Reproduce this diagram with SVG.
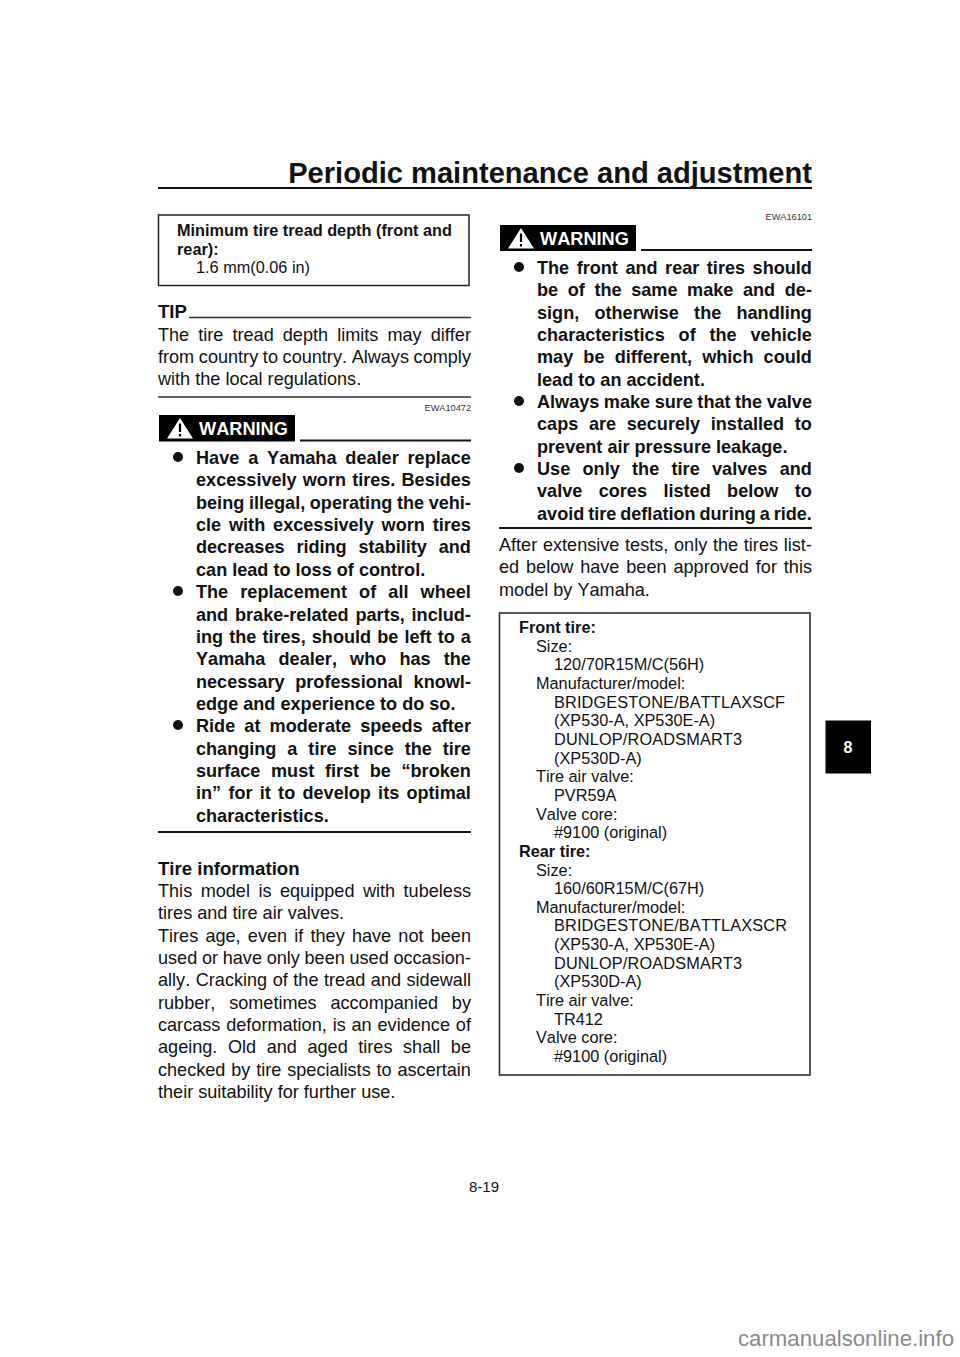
<svg xmlns="http://www.w3.org/2000/svg" width="960" height="1357" viewBox="0 0 960 1357">
<style>
text{font-family:"Liberation Sans",Arial,sans-serif;fill:#111;font-kerning:none}
.b{font-size:18.1px}
.k{font-size:18.1px;font-weight:700}
.h{font-size:18.6px;font-weight:700}
.s{font-size:16.3px}
.sb{font-size:16.3px;font-weight:700}
.c{font-size:9.2px;fill:#333;text-anchor:end}
.w{font-size:18.2px;font-weight:700;fill:#fff}
.r{stroke:#111;stroke-width:2;fill:none}
.t{stroke:#333;stroke-width:1.3;fill:none}
.box{fill:#fff;stroke:#222;stroke-width:1.5}
</style>
<rect width="960" height="1357" fill="#fff"/>
<g id="header">
<text x="812" y="183" text-anchor="end" font-size="29.1" font-weight="700">Periodic maintenance and adjustment</text>
<path class="r" d="M158 188H812"/>
</g>
<g id="tread-box">
<rect class="box" x="158.500" y="215" width="310.500" height="70.500"/>
<text class="sb" x="177" y="236">Minimum tire tread depth (front and</text>
<text class="sb" x="177" y="254.500">rear):</text>
<text class="s" x="196" y="273">1.6 mm(0.06 in)</text>
</g>
<g id="tip">
<text class="h" x="158" y="318">TIP</text>
<path class="t" d="M189 317.500H471M158 397H471"/>
<text class="b" x="158" y="341" word-spacing=".224em">The tire tread depth limits may differ</text>
<text class="b" x="158" y="363" word-spacing="-.02em">from country to country. Always comply</text>
<text class="b" x="158" y="385">with the local regulations.</text>
</g>
<g id="warning-left">
<text class="c" x="471" y="411">EWA10472</text>
<rect x="159" y="415" width="136" height="26.500" fill="#000"/>
<path d="M180 418L193 438.500H167Z" fill="#fff"/>
<path d="M180 423.500V432M180 434V436.500" stroke="#000" stroke-width="2.200"/>
<text class="w" x="199" y="435">WARNING</text>
<path class="r" d="M300 440.500H471"/>
<circle cx="178" cy="457" r="5" fill="#111"/>
<circle cx="178" cy="591" r="5" fill="#111"/>
<circle cx="178" cy="725" r="5" fill="#111"/>
<text class="k" x="196" y="464" word-spacing=".213em">Have a Yamaha dealer replace</text>
<text class="k" x="196" y="486.400" word-spacing=".062em">excessively worn tires. Besides</text>
<text class="k" x="196" y="508.700" word-spacing="-.022em">being illegal, operating the vehi-</text>
<text class="k" x="196" y="531" word-spacing=".157em">cle with excessively worn tires</text>
<text class="k" x="196" y="553.400" word-spacing=".377em">decreases riding stability and</text>
<text class="k" x="196" y="575.800">can lead to loss of control.</text>
<text class="k" x="196" y="598" word-spacing=".394em">The replacement of all wheel</text>
<text class="k" x="196" y="620.500" word-spacing=".1em">and brake-related parts, includ-</text>
<text class="k" x="196" y="642.800" word-spacing=".059em">ing the tires, should be left to a</text>
<text class="k" x="196" y="665.200" word-spacing=".45em">Yamaha dealer, who has the</text>
<text class="k" x="196" y="687.500" word-spacing=".316em">necessary professional knowl-</text>
<text class="k" x="196" y="709.900">edge and experience to do so.</text>
<text class="k" x="196" y="732.200" word-spacing=".228em">Ride at moderate speeds after</text>
<text class="k" x="196" y="754.600" word-spacing=".327em">changing a tire since the tire</text>
<text class="k" x="196" y="776.900" word-spacing=".311em">surface must first be “broken</text>
<text class="k" x="196" y="799.300" word-spacing=".124em">in” for it to develop its optimal</text>
<text class="k" x="196" y="821.600">characteristics.</text>
<path class="r" d="M158 832H471"/>
</g>
<g id="tire-information">
<text class="h" x="158" y="875">Tire information</text>
<text class="b" x="158" y="897" word-spacing=".191em">This model is equipped with tubeless</text>
<text class="b" x="158" y="919.300">tires and tire air valves.</text>
<text class="b" x="158" y="941.700" word-spacing=".12em">Tires age, even if they have not been</text>
<text class="b" x="158" y="964" word-spacing="-.018em">used or have only been used occasion-</text>
<text class="b" x="158" y="986.400" word-spacing=".029em">ally. Cracking of the tread and sidewall</text>
<text class="b" x="158" y="1008.700" word-spacing=".485em">rubber, sometimes accompanied by</text>
<text class="b" x="158" y="1031.100" word-spacing=".046em">carcass deformation, is an evidence of</text>
<text class="b" x="158" y="1053.400" word-spacing=".307em">ageing. Old and aged tires shall be</text>
<text class="b" x="158" y="1075.800" word-spacing=".046em">checked by tire specialists to ascertain</text>
<text class="b" x="158" y="1098">their suitability for further use.</text>
</g>
<g id="warning-right">
<text class="c" x="812" y="220">EWA16101</text>
<rect x="500" y="225" width="136" height="26" fill="#000"/>
<path d="M521 228L534 248.500H508Z" fill="#fff"/>
<path d="M521 233.500V242M521 244V246.500" stroke="#000" stroke-width="2.200"/>
<text class="w" x="540" y="245">WARNING</text>
<path class="r" d="M641 250H812"/>
<circle cx="519" cy="267" r="5" fill="#111"/>
<circle cx="519" cy="401" r="5" fill="#111"/>
<circle cx="519" cy="468" r="5" fill="#111"/>
<text class="k" x="537" y="274" word-spacing=".138em">The front and rear tires should</text>
<text class="k" x="537" y="296.300" word-spacing=".254em">be of the same make and de-</text>
<text class="k" x="537" y="318.700" word-spacing=".563em">sign, otherwise the handling</text>
<text class="k" x="537" y="341" word-spacing=".488em">characteristics of the vehicle</text>
<text class="k" x="537" y="363.400" word-spacing=".283em">may be different, which could</text>
<text class="k" x="537" y="385.700">lead to an accident.</text>
<text class="k" x="537" y="408" word-spacing="-.029em">Always make sure that the valve</text>
<text class="k" x="537" y="430.400" word-spacing=".31em">caps are securely installed to</text>
<text class="k" x="537" y="452.700">prevent air pressure leakage.</text>
<text class="k" x="537" y="475" word-spacing=".404em">Use only the tire valves and</text>
<text class="k" x="537" y="497.400" word-spacing=".63em">valve cores listed below to</text>
<text class="k" x="537" y="519.700" word-spacing="-.062em">avoid tire deflation during a ride.</text>
<path class="r" d="M499 528H812"/>
</g>
<g id="after-tests">
<text class="b" x="499" y="551" word-spacing=".038em">After extensive tests, only the tires list-</text>
<text class="b" x="499" y="573.400" word-spacing=".103em">ed below have been approved for this</text>
<text class="b" x="499" y="595.700">model by Yamaha.</text>
</g>
<g id="tire-box">
<rect class="box" x="499.500" y="613" width="310.500" height="462"/>
<text class="sb" x="519" y="633">Front tire:</text>
<text class="s" x="536" y="651.700">Size:</text>
<text class="s" x="554" y="670.300">120/70R15M/C(56H)</text>
<text class="s" x="536" y="689">Manufacturer/model:</text>
<text class="s" x="554" y="707.600" textLength="231">BRIDGESTONE/BATTLAXSCF</text>
<text class="s" x="554" y="726.300">(XP530-A, XP530E-A)</text>
<text class="s" x="554" y="744.900" textLength="188">DUNLOP/ROADSMART3</text>
<text class="s" x="554" y="763.600">(XP530D-A)</text>
<text class="s" x="536" y="782.200">Tire air valve:</text>
<text class="s" x="554" y="800.900">PVR59A</text>
<text class="s" x="536" y="819.500">Valve core:</text>
<text class="s" x="554" y="838.200">#9100 (original)</text>
<text class="sb" x="519" y="856.800">Rear tire:</text>
<text class="s" x="536" y="875.500">Size:</text>
<text class="s" x="554" y="894.100">160/60R15M/C(67H)</text>
<text class="s" x="536" y="912.800">Manufacturer/model:</text>
<text class="s" x="554" y="931.400" textLength="233">BRIDGESTONE/BATTLAXSCR</text>
<text class="s" x="554" y="950">(XP530-A, XP530E-A)</text>
<text class="s" x="554" y="968.700" textLength="188">DUNLOP/ROADSMART3</text>
<text class="s" x="554" y="987.300">(XP530D-A)</text>
<text class="s" x="536" y="1006">Tire air valve:</text>
<text class="s" x="554" y="1024.600">TR412</text>
<text class="s" x="536" y="1043.300">Valve core:</text>
<text class="s" x="554" y="1062">#9100 (original)</text>
</g>
<g id="tab-8">
<rect x="825.500" y="720.500" width="45.500" height="53" fill="#000"/>
<text x="848" y="753" text-anchor="middle" font-size="16" font-weight="700" style="fill:#fff">8</text>
</g>
<g id="footer">
<text x="484" y="1192" text-anchor="middle" font-size="15">8-19</text>
<text x="954" y="1346" text-anchor="end" font-size="22" textLength="216" lengthAdjust="spacingAndGlyphs" style="fill:#8a8a8a">carmanualsonline.info</text>
</g>
</svg>
